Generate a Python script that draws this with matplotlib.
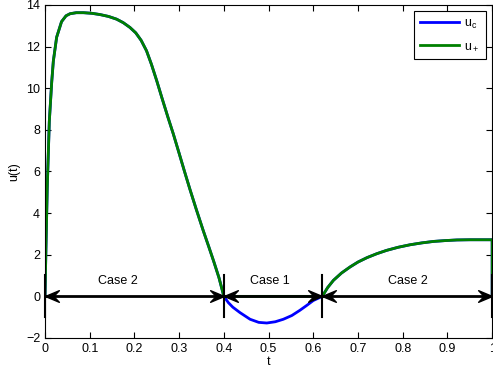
import numpy as np
import matplotlib
matplotlib.use('Agg')
from matplotlib import pyplot as plt
from matplotlib.path import Path
from matplotlib.markers import MarkerStyle
from matplotlib.transforms import Affine2D

plt.rcParams['font.family'] = ['Liberation Sans', 'DejaVu Sans']
plt.rcParams['mathtext.fontset'] = 'custom'
plt.rcParams['mathtext.rm'] = 'Liberation Sans'

# values
t = [0, 0.002, 0.005, 0.0096, 0.015, 0.0186, 0.026, 0.037, 0.047, 0.056,
     0.07, 0.086, 0.105, 0.123, 0.142, 0.16, 0.175, 0.19, 0.203, 0.215,
     0.227, 0.238, 0.25, 0.262, 0.275, 0.287, 0.3, 0.312, 0.324, 0.338,
     0.354, 0.366, 0.377, 0.389, 0.4, 0.41, 0.42, 0.436, 0.4586, 0.478,
     0.496, 0.515, 0.533, 0.552, 0.57, 0.585, 0.6, 0.62, 0.632, 0.645,
     0.663, 0.682, 0.7, 0.72, 0.742, 0.764, 0.79, 0.8166, 0.843, 0.869,
     0.895, 0.921, 0.95, 0.98, 1.0, 1.0]
u_c = [0, 2.2, 5.2, 8.4, 10.3, 11.3, 12.45, 13.2, 13.48, 13.58,
       13.63, 13.63, 13.6, 13.54, 13.45, 13.32, 13.15, 12.92, 12.66, 12.3,
       11.8, 11.15, 10.35, 9.5, 8.6, 7.8, 6.87, 6.0, 5.15, 4.2,
       3.15, 2.4, 1.7, 0.9, 0.0, -0.3, -0.52, -0.78, -1.1, -1.25,
       -1.28, -1.22, -1.1, -0.92, -0.67, -0.44, -0.2, 0.0, 0.42, 0.77,
       1.12, 1.41, 1.65, 1.86, 2.05, 2.21, 2.36, 2.48, 2.57, 2.64,
       2.68, 2.71, 2.72, 2.72, 2.72, 0.0]
case1 = (0.4, 0.62)
switch_times = [0, 0.4, 0.62, 1.0]
case_labels = ['Case 2', 'Case 1', 'Case 2']
label_x = [0.163, 0.503, 0.812]

t = np.array(t)
u_c = np.array(u_c)
u_plus = u_c.copy()
inside = (t >= case1[0]) & (t <= case1[1])
u_plus[inside] = np.maximum(u_c[inside], 0)

# notched arrow head, tip at the origin, pointing right
head = Path([(0, 0), (-1, 0.42), (-0.6, 0), (-1, -0.42), (0, 0)],
            [Path.MOVETO, Path.LINETO, Path.LINETO, Path.LINETO, Path.CLOSEPOLY])
head_right = MarkerStyle(head)
head_left = MarkerStyle(head, transform=Affine2D().rotate_deg(180))

fig = plt.figure(figsize=(4.93, 3.75), dpi=100)
ax = fig.add_axes([0.0913, 0.0987, 0.907, 0.888])

ax.plot(t, u_c, color='#0000ff', lw=2, label=r'$\mathregular{u_c}$')
ax.plot(t, u_plus, color='#008000', lw=2, label=r'$\mathregular{u_+}$')

for a, b in zip(switch_times[:-1], switch_times[1:]):
    ax.plot([a, b], [0, 0], color='black', lw=2, clip_on=False)
    ax.plot([b], [0], marker=head_right, ms=20, color='black', clip_on=False)
    ax.plot([a], [0], marker=head_left, ms=20, color='black', clip_on=False)
for s in switch_times:
    ax.plot([s, s], [-1, 1.05], color='black', lw=1.5, clip_on=False)
for x, lab in zip(label_x, case_labels):
    ax.text(x, 0.72, lab, ha='center', va='center', fontsize=9)

ax.set_xlim(0, 1)
ax.set_ylim(-2, 14)
ax.set_xticks(np.arange(0, 1.01, 0.1))
ax.set_xticklabels(['0', '0.1', '0.2', '0.3', '0.4', '0.5', '0.6', '0.7', '0.8', '0.9', '1'])
ax.set_yticks(np.arange(-2, 15, 2))
ax.set_yticklabels(['\u22122', '0', '2', '4', '6', '8', '10', '12', '14'])
ax.tick_params(direction='in', top=True, right=True, length=4, labelsize=9, width=0.8)
for sp in ax.spines.values():
    sp.set_linewidth(0.8)
ax.set_xlabel('t', fontsize=9, labelpad=1)
ax.set_ylabel('u(t)', fontsize=9, labelpad=4)

leg = ax.legend(loc='upper right', fontsize=9, fancybox=False, framealpha=1,
                edgecolor='black', handlelength=3.1, handletextpad=0.4,
                labelspacing=0.8, borderpad=0.5, borderaxespad=0.5)
leg.get_frame().set_linewidth(0.8)

fig.savefig('out.png', dpi=100)
